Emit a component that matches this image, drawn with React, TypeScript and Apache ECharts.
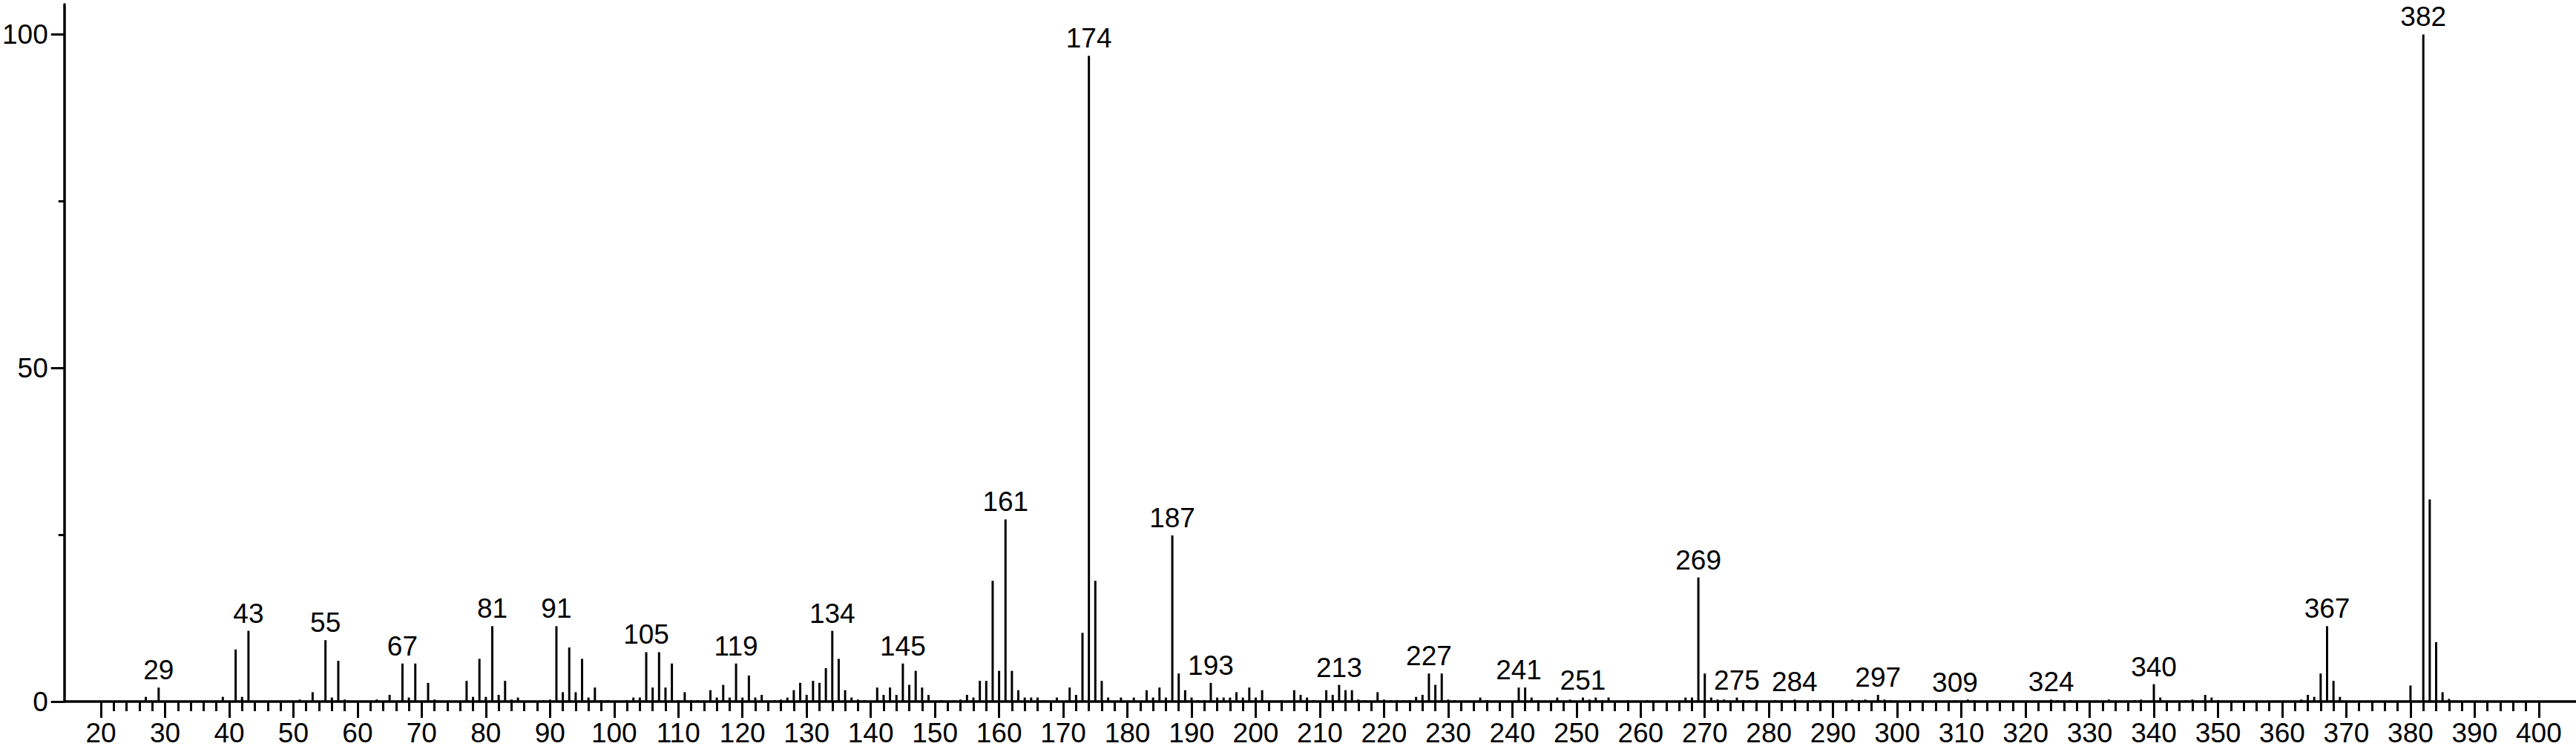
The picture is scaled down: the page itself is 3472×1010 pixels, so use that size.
import React, { useEffect, useRef } from "react";
import * as echarts from "echarts";

// m/z values and relative intensities (%)
const MZ = [
  27, 29, 39, 41, 42, 43, 51, 53, 55, 56, 57, 58, 63, 65, 67, 68, 69, 71, 72,
  77, 78, 79, 80, 81, 82, 83, 84, 85, 89, 90, 91, 92, 93, 94, 95, 96, 97, 98, 99,
  102, 103, 104, 105, 106, 107, 108, 109, 110, 111, 112, 113, 115, 116, 117, 118, 119,
  120, 121, 122, 123, 125, 126, 127, 128, 129, 130, 131, 132, 133, 134, 135, 136, 137,
  138, 139, 141, 142, 143, 144, 145, 146, 147, 148, 149, 151, 153, 154, 155, 156, 157,
  158, 159, 160, 161, 162, 163, 164, 165, 166, 167, 169, 171, 172, 173, 174, 175, 176,
  177, 179, 181, 183, 184, 185, 186, 187, 188, 189, 190, 191, 192, 193, 194, 195, 196,
  197, 198, 199, 200, 201, 204, 206, 207, 208, 209, 211, 212, 213, 214, 215, 216, 217,
  219, 220, 221, 222, 223, 224, 225, 226, 227, 228, 229, 230, 231, 235, 236, 241, 242,
  243, 244, 247, 249, 251, 252, 253, 254, 255, 258, 261, 267, 268, 269, 270, 271, 272,
  273, 275, 276, 277, 278, 281, 282, 284, 287, 289, 293, 294, 295, 297, 298, 299, 309,
  311, 312, 324, 325, 327, 333, 337, 338, 340, 341, 345, 346, 348, 349, 350, 363, 364,
  365, 366, 367, 368, 369, 380, 382, 383, 384, 385, 386,
];
const INTENSITY = [
  0.7, 2.1, 0.7, 7.8, 0.7, 10.6, 0.3, 1.4, 9.2, 0.6, 6.1, 0.3, 0.3, 1.0, 5.7, 0.6, 5.7, 2.8, 0.3,
  3.1, 0.7, 6.4, 0.7, 11.3, 1.0, 3.1, 0.3, 0.6, 0.2, 0.3, 11.3, 1.4, 8.1, 1.4, 6.4, 0.6, 2.1, 0.2, 0.2,
  0.2, 0.6, 0.6, 7.4, 2.1, 7.4, 2.1, 5.7, 0.2, 1.4, 0.2, 0.2, 1.7, 0.6, 2.5, 0.6, 5.7,
  0.6, 3.9, 0.6, 1.0, 0.2, 0.3, 0.6, 1.7, 2.8, 1.0, 3.1, 2.8, 5.0, 10.6, 6.4, 1.7, 0.6,
  0.3, 0.2, 2.1, 1.0, 2.1, 1.0, 5.7, 2.5, 4.6, 2.1, 1.0, 0.2, 0.2, 0.3, 1.0, 0.6, 3.1,
  3.1, 18.1, 4.6, 27.3, 4.6, 1.7, 0.6, 0.6, 0.6, 0.2, 0.6, 2.1, 1.0, 10.3, 96.8, 18.1, 3.1,
  0.6, 0.6, 0.6, 1.7, 0.6, 2.1, 0.6, 24.9, 4.2, 1.7, 0.6, 0.2, 0.2, 2.8, 0.6, 0.6, 0.6,
  1.4, 0.6, 2.1, 0.6, 1.7, 0.2, 1.7, 1.0, 0.6, 0.2, 1.7, 1.0, 2.5, 1.7, 1.7, 0.3, 0.2,
  1.4, 0.3, 0.2, 0.2, 0.2, 0.2, 0.7, 1.0, 4.2, 2.5, 4.2, 0.3, 0.2, 0.6, 0.2, 2.1, 2.1,
  0.6, 0.2, 0.6, 0.3, 0.6, 0.3, 0.6, 0.2, 0.6, 0.2, 0.2, 0.6, 0.6, 18.6, 4.2, 0.6, 0.3,
  0.3, 0.6, 0.2, 0.2, 0.2, 0.2, 0.2, 0.3, 0.2, 0.2, 0.3, 0.2, 0.3, 1.0, 0.3, 0.2, 0.2,
  0.3, 0.2, 0.3, 0.2, 0.2, 0.3, 0.2, 0.3, 2.6, 0.6, 0.2, 0.3, 1.0, 0.6, 0.2, 0.3, 1.0,
  0.7, 4.2, 11.3, 3.1, 0.7, 2.4, 100, 30.3, 8.9, 1.4, 0.4,
];
const LABELED = [
  29, 43, 55, 67, 81, 91, 105, 119, 134, 145, 161, 174, 187, 193, 213, 227, 241, 251,
  269, 275, 284, 297, 309, 324, 340, 367, 382,
];
const X_MAJOR = [
  20, 30, 40, 50, 60, 70, 80, 90, 100, 110, 120, 130, 140, 150, 160, 170, 180, 190, 200,
  210, 220, 230, 240, 250, 260, 270, 280, 290, 300, 310, 320, 330, 340, 350, 360, 370,
  380, 390, 400,
];
const X_MINOR: number[] = [];
for (let v = 22; v < 400; v += 2) if (v % 10 !== 0) X_MINOR.push(v);
const Y_MAJOR = [0, 50, 100];
const Y_MINOR = [25, 75];

const FONT = "Liberation Sans";
const X_MIN = 14.3;
const X_MAX = 405.8;
const Y_MAX = 104.5;

export default function App() {
  const ref = useRef<HTMLDivElement>(null);
  useEffect(() => {
    if (!ref.current) return;
    const chart = echarts.init(ref.current, null, { renderer: "svg" });
    const labelSet = new Set(LABELED);
    const data = MZ.map((m, i) => {
      const item: any = { value: [m, INTENSITY[i]] };
      if (labelSet.has(m)) item.label = { show: true };
      return item;
    });
    const axisLine = { show: true, onZero: false, lineStyle: { color: "#000", width: 3.5 } };
    const tickStyle = { color: "#000", width: 3 };
    chart.setOption({
      animation: false,
      backgroundColor: "#fff",
      grid: { left: 85, right: 0, top: 6, bottom: 64, containLabel: false },
      xAxis: [
        {
          type: "value",
          min: X_MIN,
          max: X_MAX,
          position: "bottom",
          axisLine,
          axisTick: { show: true, customValues: X_MAJOR, length: 22, lineStyle: tickStyle },
          axisLabel: {
            show: true,
            customValues: X_MAJOR,
            margin: 24,
            fontSize: 37,
            fontFamily: FONT,
            color: "#000",
          },
          splitLine: { show: false },
        },
        {
          type: "value",
          min: X_MIN,
          max: X_MAX,
          position: "bottom",
          axisLine: { show: false, onZero: false },
          axisTick: { show: true, customValues: X_MINOR, length: 13, lineStyle: tickStyle },
          axisLabel: { show: false },
          splitLine: { show: false },
        },
      ],
      yAxis: [
        {
          type: "value",
          min: 0,
          max: Y_MAX,
          position: "left",
          axisLine,
          axisTick: { show: true, customValues: Y_MAJOR, length: 18, lineStyle: tickStyle },
          axisLabel: {
            show: true,
            customValues: Y_MAJOR,
            margin: 22,
            fontSize: 37,
            fontFamily: FONT,
            color: "#000",
          },
          splitLine: { show: false },
        },
        {
          type: "value",
          min: 0,
          max: Y_MAX,
          position: "left",
          axisLine: { show: false, onZero: false },
          axisTick: { show: true, customValues: Y_MINOR, length: 8, lineStyle: tickStyle },
          axisLabel: { show: false },
          splitLine: { show: false },
        },
      ],
      series: [
        {
          type: "bar",
          xAxisIndex: 0,
          yAxisIndex: 0,
          barWidth: 3,
          itemStyle: { color: "#000" },
          label: {
            show: false,
            position: "top",
            distance: 5,
            fontSize: 37,
            lineHeight: 37,
            fontFamily: FONT,
            color: "#000",
            formatter: (p: any) => String(p.value[0]),
          },
          data,
        },
      ],
    });
    return () => chart.dispose();
  }, []);
  return (
    <div
      ref={ref}
      style={{ position: "absolute", left: 0, top: 0, width: 3472, height: 1010, background: "#fff" }}
    />
  );
}
